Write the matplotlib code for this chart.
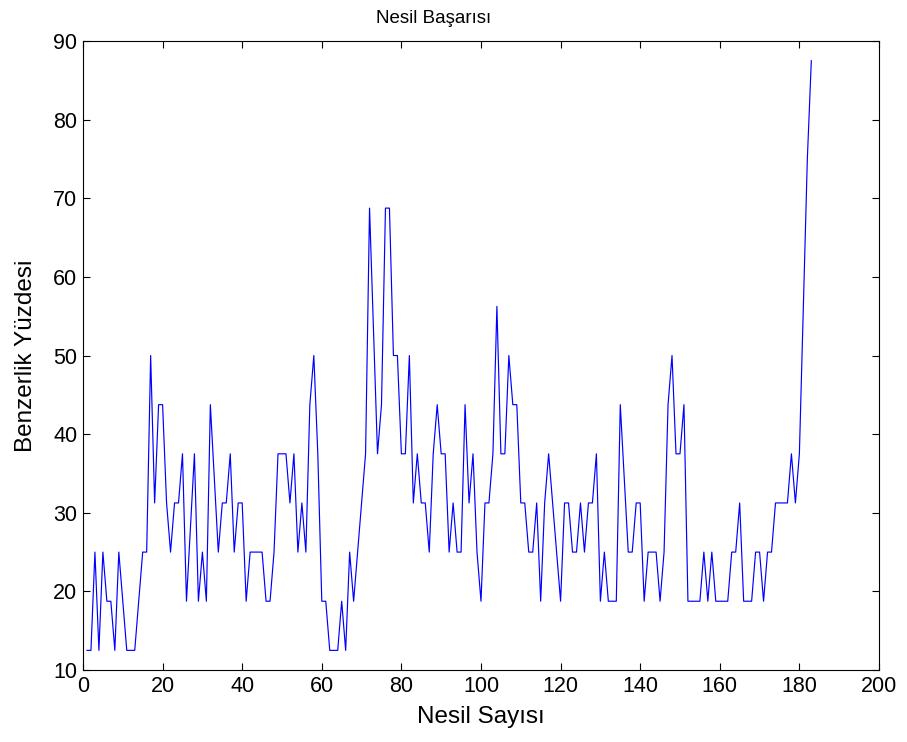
import numpy as np
import matplotlib
matplotlib.use("Agg")
import matplotlib.pyplot as plt

plt.rcParams['font.family'] = ['Liberation Sans', 'DejaVu Sans']

# Benzerlik yuzdesi, nesil 1..183
basari = [
    12.5, 12.5, 25, 12.5, 25, 18.75, 18.75, 12.5, 25, 18.75,          # 1-10
    12.5, 12.5, 12.5, 18.75, 25, 25, 50, 31.25, 43.75, 43.75,         # 11-20
    31.25, 25, 31.25, 31.25, 37.5, 18.75, 28.125, 37.5, 18.75, 25,    # 21-30
    18.75, 43.75, 34.375, 25, 31.25, 31.25, 37.5, 25, 31.25, 31.25,   # 31-40
    18.75, 25, 25, 25, 25, 18.75, 18.75, 25, 37.5, 37.5,              # 41-50
    37.5, 31.25, 37.5, 25, 31.25, 25, 43.75, 50, 37.5, 18.75,         # 51-60
    18.75, 12.5, 12.5, 12.5, 18.75, 12.5, 25, 18.75, 25, 31.25,       # 61-70
    37.5, 68.75, 53.125, 37.5, 43.75, 68.75, 68.75, 50, 50, 37.5,     # 71-80
    37.5, 50, 31.25, 37.5, 31.25, 31.25, 25, 37.5, 43.75, 37.5,       # 81-90
    37.5, 25, 31.25, 25, 25, 43.75, 31.25, 37.5, 25, 18.75,           # 91-100
    31.25, 31.25, 37.5, 56.25, 37.5, 37.5, 50, 43.75, 43.75, 31.25,   # 101-110
    31.25, 25, 25, 31.25, 18.75, 31.25, 37.5, 31.25, 25, 18.75,       # 111-120
    31.25, 31.25, 25, 25, 31.25, 25, 31.25, 31.25, 37.5, 18.75,       # 121-130
    25, 18.75, 18.75, 18.75, 43.75, 34.375, 25, 25, 31.25, 31.25,     # 131-140
    18.75, 25, 25, 25, 18.75, 25, 43.75, 50, 37.5, 37.5,              # 141-150
    43.75, 18.75, 18.75, 18.75, 18.75, 25, 18.75, 25, 18.75, 18.75,   # 151-160
    18.75, 18.75, 25, 25, 31.25, 18.75, 18.75, 18.75, 25, 25,         # 161-170
    18.75, 25, 25, 31.25, 31.25, 31.25, 31.25, 37.5, 31.25, 37.5,     # 171-180
    56.25, 75, 87.5,                                                  # 181-183
]
nesil = np.arange(1, len(basari) + 1)

fig = plt.figure(figsize=(9.07, 7.42), dpi=100)
ax = fig.add_axes([0.0915, 0.097, 0.8776, 0.8477])

ax.plot(nesil, basari, color='#0000ff', lw=0.85)

ax.set_xlim(0, 200)
ax.set_ylim(10, 90)
ax.set_xticks(np.arange(0, 201, 20))
ax.set_yticks(np.arange(10, 91, 10))
ax.tick_params(direction='in', top=True, right=True, length=5, width=0.8,
               labelsize=15.5, pad=4)
for s in ax.spines.values():
    s.set_linewidth(0.8)

# baslik MATLAB ciktisindaki gibi biraz sola kaymis
ax.text(0.44, 1.022, "Nesil Başarısı", transform=ax.transAxes, fontsize=13.5,
        ha='center', va='bottom')
ax.set_xlabel("Nesil Sayısı", fontsize=17.5, labelpad=7)
ax.set_ylabel("Benzerlik Yüzdesi", fontsize=17.5, labelpad=12)

fig.savefig("out.png", dpi=100)
